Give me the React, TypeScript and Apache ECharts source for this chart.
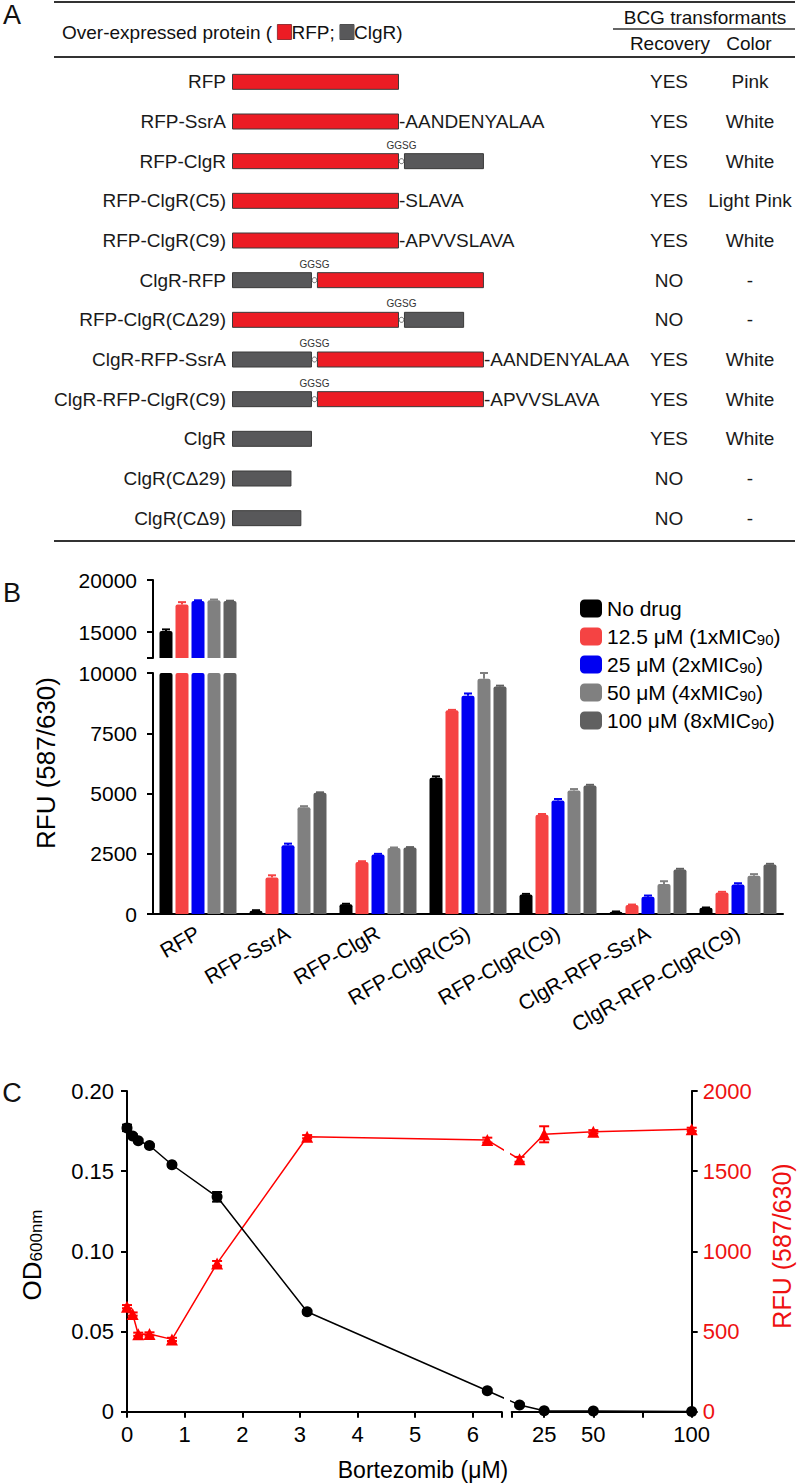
import React, { useEffect, useRef } from "react";
import * as echarts from "echarts";

const FONT = "'Liberation Sans', Arial, Helvetica, sans-serif";

// ---------------- Panel A data ----------------
const constructs = [
  "RFP", "RFP-SsrA", "RFP-ClgR", "RFP-ClgR(C5)", "RFP-ClgR(C9)", "ClgR-RFP",
  "RFP-ClgR(CΔ29)", "ClgR-RFP-SsrA", "ClgR-RFP-ClgR(C9)", "ClgR", "ClgR(CΔ29)", "ClgR(CΔ9)",
];
const seg1Type = ["RFP", "RFP", "RFP", "RFP", "RFP", "ClgR", "RFP", "ClgR", "ClgR", "ClgR", "ClgR", "ClgR"];
const seg1Len = [236, 236, 236, 236, 236, 113, 236, 113, 113, 113, 84, 98];
const linkerLen = [0, 0, 7, 0, 0, 7, 7, 7, 7, 0, 0, 0];
const seg2Type = ["", "", "ClgR", "", "", "RFP", "ClgR", "RFP", "RFP", "", "", ""];
const seg2Len = [0, 0, 113, 0, 0, 236, 85, 236, 236, 0, 0, 0];
const tails = ["", "-AANDENYALAA", "", "-SLAVA", "-APVVSLAVA", "", "", "-AANDENYALAA", "-APVVSLAVA", "", "", ""];
const recovery = ["YES", "YES", "YES", "YES", "YES", "NO", "NO", "YES", "YES", "YES", "NO", "NO"];
const colonyColor = ["Pink", "White", "White", "Light Pink", "White", "-", "-", "White", "White", "White", "-", "-"];

// ---------------- Panel B data ----------------
const groups = ["RFP", "RFP-SsrA", "RFP-ClgR", "RFP-ClgR(C5)", "RFP-ClgR(C9)", "ClgR-RFP-SsrA", "ClgR-RFP-ClgR(C9)"];
const treatments = ["No drug", "12.5 μM (1xMIC90)", "25 μM (2xMIC90)", "50 μM (4xMIC90)", "100 μM (8xMIC90)"];
const noDrug = [15100, 137, 400, 5650, 810, 95, 260];
const drug12 = [17650, 1516, 2160, 8450, 4120, 372, 895];
const drug25 = [17970, 2850, 2466, 9060, 4711, 716, 1226];
const drug50 = [18060, 4434, 2740, 9760, 5124, 1240, 1584];
const drug100 = [17970, 5029, 2756, 9445, 5331, 1846, 2052];
const errNo = [150, 20, 25, 60, 25, 10, 10];
const err12 = [220, 90, 30, 20, 30, 20, 25];
const err25 = [80, 70, 30, 90, 60, 50, 50];
const err50 = [60, 40, 20, 240, 60, 120, 70];
const err100 = [40, 20, 20, 30, 30, 30, 30];
const bTicksTop = [12500, 15000, 20000];
const bLabelsTop = [15000, 20000];

// ---------------- Panel C data ----------------
const bortezomib = [0, 0.098, 0.195, 0.39, 0.78, 1.5625, 3.125, 6.25, 12.5, 25, 50, 100];
const od600 = [0.177, 0.172, 0.169, 0.166, 0.154, 0.134, 0.0623, 0.0131, 0.0042, 0.0006, 0.0005, 0.0001];
const odErr = [0.002, 0.001, 0.001, 0.001, 0.001, 0.003, 0.001, 0.001, 0.001, 0, 0, 0];
const rfu = [655, 609, 483, 485, 451, 925, 1715, 1694, 1574, 1730, 1746, 1761];
const rfuErr = [10, 10, 10, 10, 10, 15, 10, 15, 15, 50, 10, 10];
const cTicksLeft = [0, 1, 2, 3, 4, 5, 6, 6.5];
const cLabelsLeft = [0, 1, 2, 3, 4, 5, 6];
const cTicksRight = [8.5, 25, 50, 75, 100];
const cLabelsRight = [25, 50, 100];

// ---------------- styles ----------------
const RFP_COLOR = "#ec1c24";
const CLGR_COLOR = "#58585a";
const typeColor = (t: string) => (t === "RFP" ? RFP_COLOR : CLGR_COLOR);
const bColors = ["#000000", "#f54343", "#0000f2", "#808080", "#606060"];
const BAR_W = 13;
const BAR_GAP = 3;
const A_FS = 19;

const A_GRID = { left: 232, top: 62, width: 397, height: 476 };
const B_TOP = { left: 153, top: 580, width: 630, height: 78 };
const B_BOT = { left: 153, top: 673, width: 630, height: 241 };
const C_L = { left: 127, top: 1091, width: 374.7, height: 320.7 };
const C_R = { left: 511.7, top: 1091, width: 180, height: 320.7 };
const L_MAX = 6.5;
const R_MIN = 8.5;
const R_MAX = 100;
const TOP_MIN = 12500;
const BOT_MAX = 10000;

function buildOption() {
  const bValues = [noDrug, drug12, drug25, drug50, drug100];
  const bErrors = [errNo, err12, err25, err50, err100];

  const line = { show: true, lineStyle: { color: "#000", width: 2 } };
  const tick = { show: true, length: 6, inside: false, lineStyle: { color: "#000", width: 2 } };

  // ---- Panel A series ----
  const seg1Data = seg1Len.map((v, i) => ({
    value: v,
    itemStyle: { color: typeColor(seg1Type[i]) },
    label: tails[i] && !seg2Len[i] ? { show: true, formatter: tails[i] } : { show: false },
  }));
  const linkerData = linkerLen.map((v) => (v > 0 ? v : "-"));
  const seg2Data = seg2Len.map((v, i) =>
    v > 0
      ? {
          value: v,
          itemStyle: { color: typeColor(seg2Type[i]) },
          label: tails[i] ? { show: true, formatter: tails[i] } : { show: false },
        }
      : "-"
  );
  const linkerDots: number[][] = [];
  linkerLen.forEach((v, i) => {
    if (v > 0) linkerDots.push([seg1Len[i] + v / 2, i]);
  });
  const tailLabel = { position: "right", distance: 0, fontSize: A_FS, color: "#1a1a1a", fontFamily: FONT };

  // ---- Panel B series ----
  const pitch = BAR_W + BAR_GAP;
  const barErr = (xi: number, yi: number, keep: (v: number) => boolean) => {
    const data: number[][] = [];
    bValues.forEach((vals, s) =>
      vals.forEach((v, g) => {
        if (keep(v)) data.push([g, s, v, bErrors[s][g]]);
      })
    );
    return {
      type: "custom",
      xAxisIndex: xi,
      yAxisIndex: yi,
      encode: { x: 0, y: 2 },
      z: 3,
      renderItem: (params: any, api: any) => {
        const g = api.value(0);
        const s = api.value(1);
        const v = api.value(2);
        const e = api.value(3);
        const base = api.coord([g, v]);
        const top = api.coord([g, v + e]);
        const x = base[0] + (s - 2) * pitch;
        const c = bColors[s];
        return {
          type: "group",
          children: [
            { type: "line", shape: { x1: x, y1: base[1], x2: x, y2: top[1] }, style: { stroke: c, lineWidth: 2 } },
            { type: "line", shape: { x1: x - 4, y1: top[1], x2: x + 4, y2: top[1] }, style: { stroke: c, lineWidth: 2 } },
          ],
        };
      },
      data,
    };
  };
  const bSeries: any[] = [];
  treatments.forEach((name, s) => {
    bSeries.push({
      type: "bar",
      name,
      xAxisIndex: 1,
      yAxisIndex: 2,
      barWidth: BAR_W,
      barGap: (BAR_GAP / BAR_W) * 100 + "%",
      data: bValues[s].map((v) => (v > TOP_MIN ? v : "-")),
      itemStyle: { color: bColors[s], borderRadius: [2, 2, 0, 0] },
    });
    bSeries.push({
      type: "bar",
      name,
      xAxisIndex: 2,
      yAxisIndex: 3,
      barWidth: BAR_W,
      barGap: (BAR_GAP / BAR_W) * 100 + "%",
      data: bValues[s],
      itemStyle: { color: bColors[s], borderRadius: [2, 2, 0, 0] },
    });
  });
  bSeries.push(barErr(1, 2, (v) => v > TOP_MIN));
  bSeries.push(barErr(2, 3, (v) => v <= BOT_MAX));

  // ---- Panel C series ----
  const kL = C_L.width / L_MAX;
  const kR = C_R.width / (R_MAX - R_MIN);
  const gapPx = C_R.left - (C_L.left + C_L.width);
  const toLeft = (x: number) => L_MAX + (gapPx + (x - R_MIN) * kR) / kL;
  const toRight = (x: number) => R_MIN - (gapPx + (L_MAX - x) * kL) / kR;
  const leftIdx = bortezomib.map((x, i) => i).filter((i) => bortezomib[i] <= L_MAX);
  const rightIdx = bortezomib.map((x, i) => i).filter((i) => bortezomib[i] >= R_MIN);
  const lastL = leftIdx[leftIdx.length - 1];
  const firstR = rightIdx[0];
  const splitData = (ys: number[]) => ({
    left: [
      ...leftIdx.map((i) => [bortezomib[i], ys[i]]),
      { value: [toLeft(bortezomib[firstR]), ys[firstR]], symbol: "none" },
    ],
    right: [
      { value: [toRight(bortezomib[lastL]), ys[lastL]], symbol: "none" },
      ...rightIdx.map((i) => [bortezomib[i], ys[i]]),
    ],
  });
  const odSplit = splitData(od600);
  const rfuSplit = splitData(rfu);
  const cErr = (xi: number, yi: number, idx: number[], ys: number[], es: number[], color: string) => ({
    type: "custom",
    xAxisIndex: xi,
    yAxisIndex: yi,
    z: 1,
    renderItem: (params: any, api: any) => {
      const x = api.value(0);
      const y = api.value(1);
      const e = api.value(2);
      const p1 = api.coord([x, y - e]);
      const p2 = api.coord([x, y + e]);
      const st = { stroke: color, lineWidth: 2 };
      return {
        type: "group",
        children: [
          { type: "line", shape: { x1: p1[0], y1: p1[1], x2: p2[0], y2: p2[1] }, style: st },
          { type: "line", shape: { x1: p1[0] - 5, y1: p1[1], x2: p1[0] + 5, y2: p1[1] }, style: st },
          { type: "line", shape: { x1: p2[0] - 5, y1: p2[1], x2: p2[0] + 5, y2: p2[1] }, style: st },
        ],
      };
    },
    data: idx.map((i) => [bortezomib[i], ys[i], es[i]]),
  });
  const odLine = { color: "#000", width: 1.5 };
  const rfuLine = { color: "#ff0000", width: 1.5 };
  const cSeries: any[] = [
    cErr(3, 4, leftIdx, od600, odErr, "#000"),
    cErr(4, 6, rightIdx, od600, odErr, "#000"),
    cErr(3, 5, leftIdx, rfu, rfuErr, "#ff0000"),
    cErr(4, 7, rightIdx, rfu, rfuErr, "#ff0000"),
    { type: "line", xAxisIndex: 3, yAxisIndex: 5, data: rfuSplit.left, symbol: "triangle", symbolSize: 12, lineStyle: rfuLine, itemStyle: { color: "#ff0000" }, clip: true, z: 2 },
    { type: "line", xAxisIndex: 4, yAxisIndex: 7, data: rfuSplit.right, symbol: "triangle", symbolSize: 12, lineStyle: rfuLine, itemStyle: { color: "#ff0000" }, clip: true, z: 2 },
    { type: "line", xAxisIndex: 3, yAxisIndex: 4, data: odSplit.left, symbol: "circle", symbolSize: 11, lineStyle: odLine, itemStyle: { color: "#000" }, clip: true, z: 3 },
    { type: "line", xAxisIndex: 4, yAxisIndex: 6, data: odSplit.right, symbol: "circle", symbolSize: 11, lineStyle: odLine, itemStyle: { color: "#000" }, clip: true, z: 3 },
  ];

  const lbl = (size: number, extra: any = {}) => ({ fontSize: size, color: "#000", fontFamily: FONT, ...extra });
  const txt = (text: string, x: number, y: number, size: number, extra: any = {}, styleExtra: any = {}) => ({
    type: "text",
    x,
    y,
    ...extra,
    style: {
      text,
      fontSize: size,
      fontFamily: FONT,
      fill: "#111",
      align: "center",
      verticalAlign: "middle",
      textAlign: "center",
      textVerticalAlign: "middle",
      ...styleExtra,
    },
  });
  const hline = (x1: number, x2: number, y: number, w: number) => ({
    type: "line",
    shape: { x1, y1: y, x2, y2: y },
    style: { stroke: "#333", lineWidth: w },
  });

  return {
    animation: false,
    textStyle: { fontFamily: FONT },
    grid: [
      { ...A_GRID, containLabel: false },
      { ...B_TOP },
      { ...B_BOT },
      { ...C_L },
      { ...C_R },
    ],
    legend: {
      data: treatments,
      left: 580,
      top: 598,
      orient: "vertical",
      padding: 0,
      itemWidth: 22,
      itemHeight: 18,
      itemGap: 7,
      itemTextGap: 11,
      icon: "roundRect",
      textStyle: {
        fontSize: 21,
        color: "#000",
        fontFamily: FONT,
        rich: { s: { fontSize: 15, fontFamily: FONT, color: "#000", verticalAlign: "bottom", lineHeight: 15 } },
      },
      formatter: (n: string) => n.replace("MIC90", "MIC{s|90}"),
    },
    xAxis: [
      { gridIndex: 0, type: "value", min: 0, max: 561, show: false },
      { gridIndex: 1, type: "category", data: groups, show: false },
      {
        gridIndex: 2,
        type: "category",
        data: groups,
        axisLine: line,
        axisTick: { show: false },
        axisLabel: { ...lbl(21), rotate: 30, interval: 0, margin: 17 },
      },
      {
        gridIndex: 3,
        type: "value",
        min: 0,
        max: L_MAX,
        axisLine: line,
        axisTick: { ...tick, customValues: cTicksLeft },
        axisLabel: { ...lbl(22), customValues: cLabelsLeft, margin: 12 },
        splitLine: { show: false },
      },
      {
        gridIndex: 4,
        type: "value",
        min: R_MIN,
        max: R_MAX,
        axisLine: line,
        axisTick: { ...tick, customValues: cTicksRight },
        axisLabel: { ...lbl(22), customValues: cLabelsRight, margin: 12 },
        splitLine: { show: false },
      },
    ],
    yAxis: [
      {
        gridIndex: 0,
        type: "category",
        data: constructs,
        inverse: true,
        axisLine: { show: false },
        axisTick: { show: false },
        axisLabel: { ...lbl(A_FS, { color: "#1a1a1a" }), margin: 6, interval: 0 },
      },
      {
        gridIndex: 0,
        type: "category",
        data: constructs,
        inverse: true,
        position: "right",
        axisLine: { show: false },
        axisTick: { show: false },
        axisLabel: {
          margin: 0,
          interval: 0,
          formatter: (v: string, i: number) => `{a|${recovery[i]}}{b|${colonyColor[i]}}`,
          rich: {
            a: { width: 80, align: "center", fontSize: A_FS, color: "#1a1a1a", fontFamily: FONT },
            b: { width: 82, align: "center", fontSize: A_FS, color: "#1a1a1a", fontFamily: FONT },
          },
        },
      },
      {
        gridIndex: 1,
        type: "value",
        min: TOP_MIN,
        max: 20000,
        axisLine: line,
        axisTick: { ...tick, customValues: bTicksTop },
        axisLabel: { ...lbl(21), customValues: bLabelsTop, margin: 16, formatter: (v: number) => String(v) },
        splitLine: { show: false },
      },
      {
        gridIndex: 2,
        type: "value",
        min: 0,
        max: BOT_MAX,
        interval: 2500,
        axisLine: line,
        axisTick: tick,
        axisLabel: { ...lbl(21), margin: 16, formatter: (v: number) => String(v) },
        splitLine: { show: false },
      },
      {
        gridIndex: 3,
        type: "value",
        min: 0,
        max: 0.2,
        interval: 0.05,
        axisLine: line,
        axisTick: tick,
        axisLabel: { ...lbl(22), margin: 13, formatter: (v: number) => (v === 0 ? "0" : v.toFixed(2)) },
        splitLine: { show: false },
      },
      { gridIndex: 3, type: "value", min: 0, max: 2000, show: false, splitLine: { show: false } },
      { gridIndex: 4, type: "value", min: 0, max: 0.2, show: false, splitLine: { show: false } },
      {
        gridIndex: 4,
        type: "value",
        min: 0,
        max: 2000,
        interval: 500,
        position: "right",
        axisLine: line,
        axisTick: tick,
        axisLabel: { ...lbl(22, { color: "#ee1111" }), margin: 11, formatter: (v: number) => String(v) },
        splitLine: { show: false },
      },
    ],
    graphic: [
      hline(54, 795, 2, 2),
      hline(54, 795, 57, 2),
      hline(54, 795, 541, 2),
      hline(613, 795, 29, 1.5),
      txt("A", 12, 15, 27),
      txt("B", 12, 593, 27),
      txt("C", 12, 1093, 27),
      txt("BCG transformants", 705, 17, A_FS),
      txt("Recovery", 670, 43, A_FS),
      txt("Color", 749, 43, A_FS),
      txt("Over-expressed protein ( {r| }RFP; {g| }ClgR)", 62, 32, A_FS, {}, {
        align: "left",
        textAlign: "left",
        rich: {
          r: { width: 14, height: 15, backgroundColor: RFP_COLOR, borderColor: "#444", borderWidth: 0.5 },
          g: { width: 14, height: 15, backgroundColor: CLGR_COLOR, borderColor: "#444", borderWidth: 0.5 },
        },
      }),
      txt("RFU (587/630)", 46, 763, 26, { rotation: Math.PI / 2 }, { fill: "#000" }),
      txt("OD{s|600nm}", 32, 1255, 26, { rotation: Math.PI / 2 }, {
        fill: "#000",
        rich: { s: { fontSize: 17, fontFamily: FONT, fill: "#000", verticalAlign: "bottom", lineHeight: 17 } },
      }),
      txt("RFU (587/630)", 782, 1246, 25, { rotation: Math.PI / 2 }, { fill: "#ee1111" }),
      txt("Bortezomib (μM)", 423, 1470, 23, {}, { fill: "#000" }),
    ],
    series: [
      {
        type: "bar",
        xAxisIndex: 0,
        yAxisIndex: 0,
        stack: "construct",
        barWidth: 16,
        data: seg1Data,
        itemStyle: { borderColor: "#3a3a3a", borderWidth: 1 },
        label: tailLabel,
      },
      {
        type: "bar",
        xAxisIndex: 0,
        yAxisIndex: 0,
        stack: "construct",
        barWidth: 16,
        data: linkerData,
        itemStyle: { color: "rgba(0,0,0,0)", borderWidth: 0 },
        label: { show: true, position: "top", distance: 3, formatter: "GGSG", fontSize: 10, color: "#333", fontFamily: FONT },
      },
      {
        type: "bar",
        xAxisIndex: 0,
        yAxisIndex: 0,
        stack: "construct",
        barWidth: 16,
        data: seg2Data,
        itemStyle: { borderColor: "#3a3a3a", borderWidth: 1 },
        label: tailLabel,
      },
      {
        type: "scatter",
        xAxisIndex: 0,
        yAxisIndex: 0,
        data: linkerDots,
        symbol: "circle",
        symbolSize: 5,
        itemStyle: { color: "#fff", borderColor: "#444", borderWidth: 1 },
        z: 5,
      },
      ...bSeries,
      ...cSeries,
    ],
  };
}

export default function App() {
  const ref = useRef<HTMLDivElement>(null);
  useEffect(() => {
    document.body.style.margin = "0";
    const chart = echarts.init(ref.current!, undefined, { renderer: "svg" });
    chart.setOption(buildOption() as any);
    return () => chart.dispose();
  }, []);
  return <div ref={ref} style={{ width: 800, height: 1483 }} />;
}
